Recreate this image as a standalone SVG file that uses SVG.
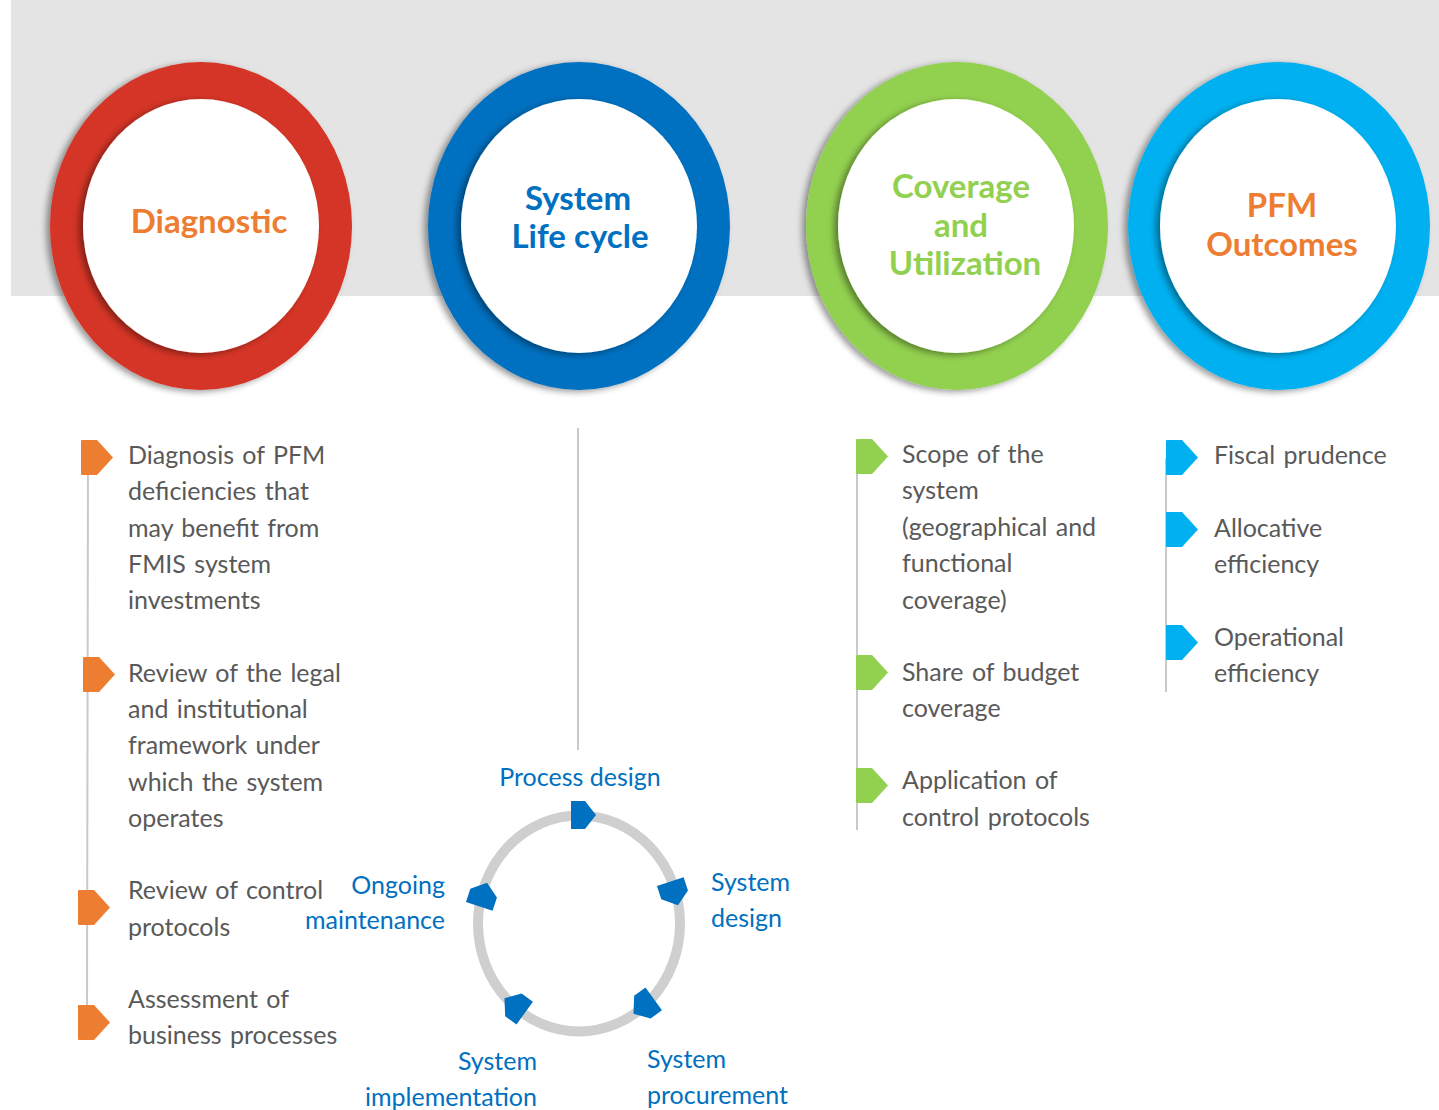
<svg xmlns="http://www.w3.org/2000/svg" width="1439" height="1110" viewBox="0 0 1439 1110">
<defs>
<filter id="sh" x="-20%" y="-20%" width="140%" height="140%">
<feDropShadow dx="-4" dy="2" stdDeviation="3" flood-color="#000" flood-opacity="0.4"/>
</filter>
<path id="mk" d="M0,1 Q0,0 1,0 L16,0 L32,17.5 L16,35 L1,35 Q0,35 0,34 Z"/>
<path id="ca" d="M-12,-14 L2,-14 L13,0 L2,14 L-12,14 Z"/>
</defs>
<style>
.body{font-family:Lato,"Open Sans",sans-serif;font-size:25px;fill:#595959;word-spacing:2px}
.head{font-family:Lato,"Open Sans",sans-serif;font-size:33px;font-weight:bold;text-anchor:middle}
.cyc{font-family:Lato,"Open Sans",sans-serif;font-size:25px;fill:#0070C0}
.vl{stroke:#C9C9C9;stroke-width:2;fill:none}
</style>
<rect x="11" y="0" width="1428" height="296" fill="#E4E4E4"/>

<g id="node-diagnostic">
<ellipse cx="201" cy="226" rx="151" ry="164" fill="#D43527" filter="url(#sh)"/>
<ellipse cx="201" cy="226" rx="118" ry="127" fill="#FFFFFF" filter="url(#sh)"/>
<text class="head" x="209" y="233" fill="#ED7D31">Diagnostic</text>
</g>
<g id="node-lifecycle">
<ellipse cx="579" cy="226" rx="151" ry="164" fill="#0070C0" filter="url(#sh)"/>
<ellipse cx="579" cy="226" rx="118" ry="127" fill="#FFFFFF" filter="url(#sh)"/>
<text class="head" x="578" y="210" fill="#0070C0">System</text>
<text class="head" x="580" y="248" fill="#0070C0">Life cycle</text>
</g>
<g id="node-coverage">
<ellipse cx="957" cy="226" rx="151" ry="164" fill="#92D050" filter="url(#sh)"/>
<ellipse cx="956" cy="226" rx="118" ry="127" fill="#FFFFFF" filter="url(#sh)"/>
<text class="head" x="961" y="198" fill="#92D050">Coverage</text>
<text class="head" x="961" y="237" fill="#92D050">and</text>
<text class="head" x="965" y="275" fill="#92D050">Utilization</text>
</g>
<g id="node-outcomes">
<ellipse cx="1279" cy="226" rx="151" ry="164" fill="#00B0F0" filter="url(#sh)"/>
<ellipse cx="1278" cy="226" rx="118" ry="127" fill="#FFFFFF" filter="url(#sh)"/>
<text class="head" x="1282" y="217" fill="#ED7D31">PFM</text>
<text class="head" x="1282" y="256" fill="#ED7D31">Outcomes</text>
</g>

<g id="connectors">
<line class="vl" x1="88" y1="458" x2="87" y2="1020"/>
<line class="vl" x1="578" y1="428" x2="578" y2="750" stroke="#DADADA"/>
<line class="vl" x1="857" y1="458" x2="857" y2="830"/>
<line class="vl" x1="1166" y1="458" x2="1166" y2="692"/>
<ellipse cx="579" cy="923.5" rx="101" ry="108" fill="none" stroke="#CFCFCF" stroke-width="10"/>
</g>

<g id="diagnostic-items" fill="#ED7D31">
<use href="#mk" x="81" y="440"/>
<use href="#mk" x="83" y="657"/>
<use href="#mk" x="78" y="890"/>
<use href="#mk" x="78" y="1005"/>
<text class="body"><tspan x="128" y="464">Diagnosis of PFM</tspan><tspan x="128" y="500">deficiencies that</tspan><tspan x="128" y="537">may benefit from</tspan><tspan x="128" y="573">FMIS system</tspan><tspan x="128" y="609">investments</tspan></text>
<text class="body"><tspan x="128" y="682">Review of the legal</tspan><tspan x="128" y="718">and institutional</tspan><tspan x="128" y="754">framework under</tspan><tspan x="128" y="791">which the system</tspan><tspan x="128" y="827">operates</tspan></text>
<text class="body"><tspan x="128" y="899">Review of control</tspan><tspan x="128" y="936">protocols</tspan></text>
<text class="body"><tspan x="128" y="1008">Assessment of</tspan><tspan x="128" y="1044">business processes</tspan></text>
</g>

<g id="coverage-items" fill="#92D050">
<use href="#mk" x="856" y="439"/>
<use href="#mk" x="856" y="655"/>
<use href="#mk" x="856" y="768"/>
<text class="body"><tspan x="902" y="463">Scope of the</tspan><tspan x="902" y="499">system</tspan><tspan x="902" y="536">(geographical and</tspan><tspan x="902" y="572">functional</tspan><tspan x="902" y="609">coverage)</tspan></text>
<text class="body"><tspan x="902" y="681">Share of budget</tspan><tspan x="902" y="717">coverage</tspan></text>
<text class="body"><tspan x="902" y="789">Application of</tspan><tspan x="902" y="826">control protocols</tspan></text>
</g>

<g id="outcome-items" fill="#00B0F0">
<use href="#mk" x="1166" y="440"/>
<use href="#mk" x="1166" y="512"/>
<use href="#mk" x="1166" y="625"/>
<text class="body"><tspan x="1214" y="464">Fiscal prudence</tspan></text>
<text class="body"><tspan x="1214" y="537">Allocative</tspan><tspan x="1214" y="573">efficiency</tspan></text>
<text class="body"><tspan x="1214" y="646">Operational</tspan><tspan x="1214" y="682">efficiency</tspan></text>
</g>

<g id="cycle-arrows" fill="#0070C0">
<use href="#ca" transform="translate(583,815) rotate(0)"/>
<use href="#ca" transform="translate(674,893) rotate(72)"/>
<use href="#ca" transform="translate(644,1006) rotate(144)"/>
<use href="#ca" transform="translate(515,1006) rotate(216)"/>
<use href="#ca" transform="translate(483,895) rotate(288)"/>
</g>

<g id="cycle-labels">
<text class="cyc" x="580" y="786" text-anchor="middle">Process design</text>
<text class="cyc"><tspan x="711" y="891">System</tspan><tspan x="711" y="927">design</tspan></text>
<text class="cyc" text-anchor="end"><tspan x="445" y="894">Ongoing</tspan><tspan x="445" y="929">maintenance</tspan></text>
<text class="cyc"><tspan x="647" y="1068">System</tspan><tspan x="647" y="1104">procurement</tspan></text>
<text class="cyc" text-anchor="end"><tspan x="537" y="1070">System</tspan><tspan x="537" y="1106">implementation</tspan></text>
</g>
</svg>
